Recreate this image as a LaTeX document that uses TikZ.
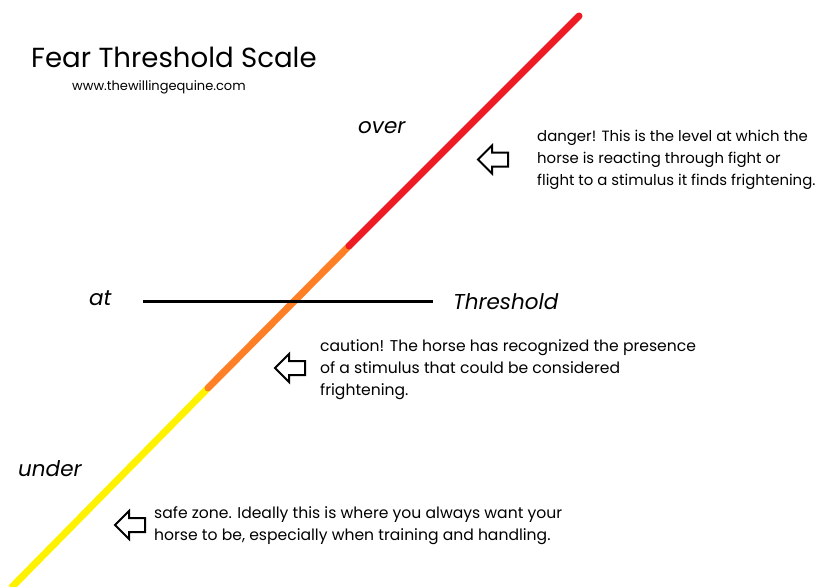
\documentclass[tikz,border=0pt]{standalone}
\usepackage{fontspec}
\setmainfont{Poppins}
\definecolor{dangerred}{HTML}{ED1C24}
\definecolor{cautionorange}{HTML}{FF7F27}
\definecolor{safeyellow}{HTML}{FFF200}
\begin{document}
\begin{tikzpicture}[x=1pt,y=-1pt,
  scaleline/.style={line width=7pt,line cap=round},
  lbl/.style={inner sep=0pt,anchor=west,font=\fontsize{21.5}{24}\selectfont\itshape},
  desc/.style={inner sep=0pt,anchor=west,align=left,font=\fontsize{15.6}{22}\selectfont},
  pics/openarrow/.style={code={
    \draw[line width=2pt,line join=miter]
      (0,0) -- (14,-14) -- (14,-7) -- (30,-7) -- (30,7) -- (14,7) -- (14,14) -- cycle;}}
]
\useasboundingbox (0,0) rectangle (824,586);
% scale line
\coordinate (bottom) at (11,588);
\coordinate (cauStart) at (208,388);
\coordinate (danStart) at (349,246);
\coordinate (top) at (579,16);
\draw[scaleline,line cap=butt,safeyellow] (bottom) -- (cauStart);
\draw[scaleline,cautionorange] (cauStart) -- (danStart);
\draw[scaleline,dangerred] (danStart) -- (top);
% threshold line
\coordinate (thrL) at (143,301);
\coordinate (thrR) at (433,301);
\draw[line width=3pt] (thrL) -- (thrR);
% title
\node[inner sep=0pt,anchor=west,font=\fontsize{27.6}{32}\selectfont] (title) at (31,57) {Fear Threshold Scale};
\node[inner sep=0pt,anchor=west,font=\fontsize{13}{15}\selectfont] (url) at (72,87) {www.thewillingequine.com};
% level labels
\node[lbl] (over) at (358,128) {over};
\node[lbl] (at) at (89,298) {at};
\node[lbl] (thr) at (453,302) {Threshold};
\node[lbl] (under) at (18,469) {under};
% arrows
\pic at (478,159.5) {openarrow};
\pic at (275,368) {openarrow};
\pic at (115,525) {openarrow};
% descriptions
\node[desc,font=\fontsize{14.9}{22}\selectfont] (danger) at (537,160) {danger! This is the level at which the\\horse is reacting through fight or\\flight to a stimulus it finds frightening.};
\node[desc] (caution) at (320,369.5) {caution! The horse has recognized the presence\\of a stimulus that could be considered\\frightening.};
\node[desc] (safe) at (154,525.5) {safe zone. Ideally this is where you always want your\\horse to be, especially when training and handling.};
\end{tikzpicture}
\end{document}
